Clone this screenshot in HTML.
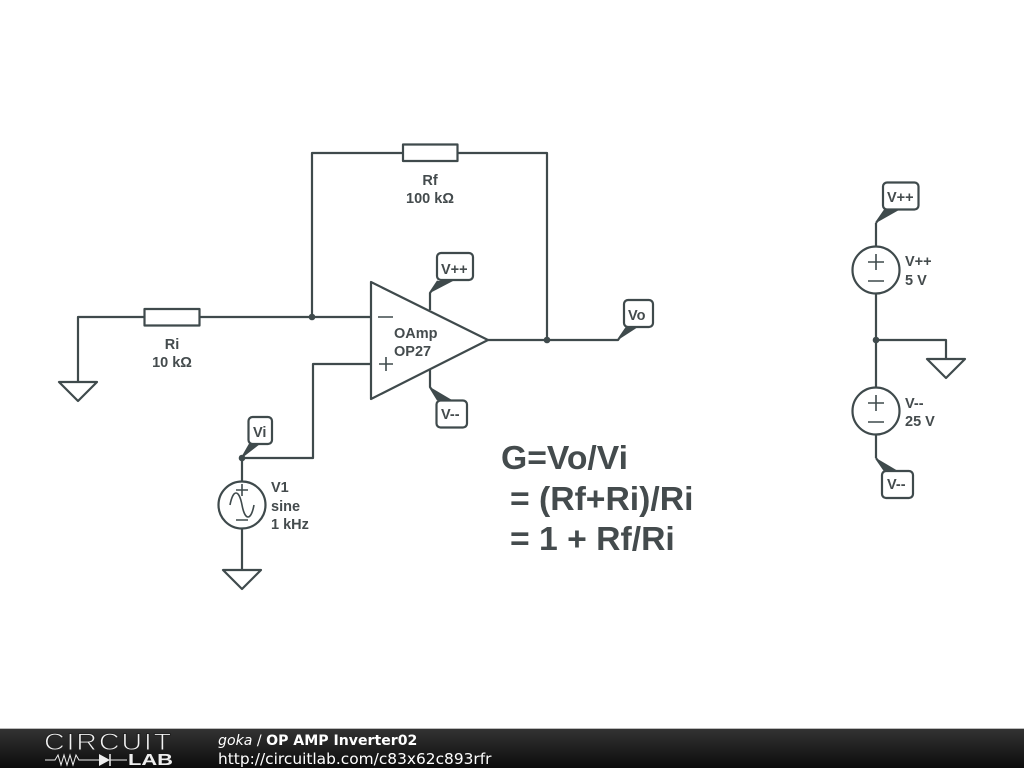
<!DOCTYPE html>
<html><head><meta charset="utf-8"><style>
html,body{margin:0;padding:0;background:#fff;width:1024px;height:768px;overflow:hidden}
svg{display:block;filter:blur(0.35px)}
.t{font-family:"Liberation Sans",sans-serif;font-weight:700;font-size:14.5px;fill:#444b4d}
.b{font-size:33.7px}
.f{font-family:"DejaVu Sans",sans-serif;fill:#fff}
</style></head><body>
<svg width="1024" height="768" viewBox="0 0 1024 768" xmlns="http://www.w3.org/2000/svg">
<defs><linearGradient id="g" x1="0" y1="0" x2="0" y2="1"><stop offset="0" stop-color="#333"/><stop offset="1" stop-color="#0c0c0c"/></linearGradient></defs>
<g fill="none" stroke="#3f4a4c" stroke-width="2.2" stroke-linejoin="round">
<path d="M78 382V317H144M199 317H371M312 317V153H403M457 153H547V340M488 340H618L627 327"/>
<path d="M371 364H313V458H242V482M242 528V570"/>
<path d="M430 310V293L438 281M430 370V387L438 400"/>
<path d="M876 223V247M876 293V388M876 434V458M876 340H946V359M876 223L885 210M876 458L885 471M242 458L250 444"/>
<rect x="144.500" y="309" width="55" height="16.500"/>
<rect x="403" y="144.500" width="54.500" height="16.500"/>
<path d="M371 282V399L488 340Z"/>
<path d="M59 382H97L78 401ZM223 570H261L242 589ZM927 359H965L946 378Z"/>
<circle cx="242" cy="505" r="23.500"/><circle cx="876" cy="270" r="23.500"/><circle cx="876" cy="411" r="23.500"/>
<rect x="437" y="253" width="36" height="27" rx="4"/>
<rect x="436.500" y="400.500" width="30.500" height="27" rx="4"/>
<rect x="624" y="300" width="29" height="27" rx="4"/>
<rect x="248.500" y="417" width="23.500" height="27" rx="4"/>
<rect x="883" y="182.500" width="35.500" height="27" rx="4"/>
<rect x="882" y="471" width="31" height="27" rx="4"/>
</g>
<g fill="none" stroke="#3f4a4c" stroke-width="1.600">
<path d="M378 317H393M379 364H393M386 357V371"/>
<path d="M868 262H884M876 254V270M868 281H884M868 403H884M876 395V411M868 422H884"/>
<path d="M236 490H248M242 484V496M236 520H248M230 505C233 489 239 489 242 505S251 521 254 505"/>
</g>
<g fill="#3f4a4c">
<circle cx="312" cy="317" r="3.300"/><circle cx="547" cy="340" r="3.300"/><circle cx="242" cy="458" r="3.300"/><circle cx="876" cy="340" r="3.300"/>
<path d="M430 293L438 281H453ZM430 387L438 400H452ZM618 340L627 327H638ZM242 458L250 444H260ZM876 223L885 210H899ZM876 458L885 471H898Z"/>
</g>
<g>
<text class="t" x="430" y="185" text-anchor="middle">Rf</text>
<text class="t" x="430" y="203" text-anchor="middle">100 kΩ</text>
<text class="t" x="172" y="349" text-anchor="middle">Ri</text>
<text class="t" x="172" y="367" text-anchor="middle">10 kΩ</text>
<text class="t" x="394" y="338">OAmp</text>
<text class="t" x="394" y="356">OP27</text>
<text class="t" x="441" y="274">V++</text>
<text class="t" x="441" y="419">V--</text>
<text class="t" x="628" y="320">Vo</text>
<text class="t" x="253" y="437">Vi</text>
<text class="t" x="271" y="492">V1</text>
<text class="t" x="271" y="511">sine</text>
<text class="t" x="271" y="529">1 kHz</text>
<text class="t" x="887" y="202">V++</text>
<text class="t" x="905" y="266">V++</text>
<text class="t" x="905" y="285">5 V</text>
<text class="t" x="905" y="408">V--</text>
<text class="t" x="905" y="426">25 V</text>
<text class="t" x="887" y="489">V--</text>
<text class="t b" x="501" y="469">G=Vo/Vi</text>
<text class="t b" x="510" y="510">= (Rf+Ri)/Ri</text>
<text class="t b" x="510" y="550">= 1 + Rf/Ri</text>
</g>
<rect x="0" y="729" width="1024" height="39" fill="url(#g)"/>
<rect x="0" y="728" width="1024" height="1" fill="#bbb"/>
<text x="44" y="750" stroke="#222" stroke-width="0.9" letter-spacing="1.500" style="font-family:'Liberation Sans',sans-serif;font-size:24px;font-weight:400;fill:#f2f2f2" textLength="129" lengthAdjust="spacingAndGlyphs">CIRCUIT</text>
<text x="128" y="765" style="font-family:'Liberation Sans',sans-serif;font-size:15.500px;font-weight:700;fill:#eee" textLength="45" lengthAdjust="spacingAndGlyphs">LAB</text>
<path d="M45 760H55L58 755L61 765L64 755L67 765L70 755L73 765L76 755L79 760H99M110 760H127" fill="none" stroke="#eee" stroke-width="1"/>
<path d="M99 754V766L110 760Z" fill="#eee"/><path d="M110 754V766" stroke="#eee" stroke-width="1.500"/>
<text class="f" x="218" y="745" font-size="14.100"><tspan font-style="italic">goka</tspan> / <tspan font-weight="700">OP AMP Inverter02</tspan></text>
<text class="f" x="218" y="764" font-size="15.400">http://circuitlab.com/c83x62c893rfr</text>
</svg>
</body></html>
